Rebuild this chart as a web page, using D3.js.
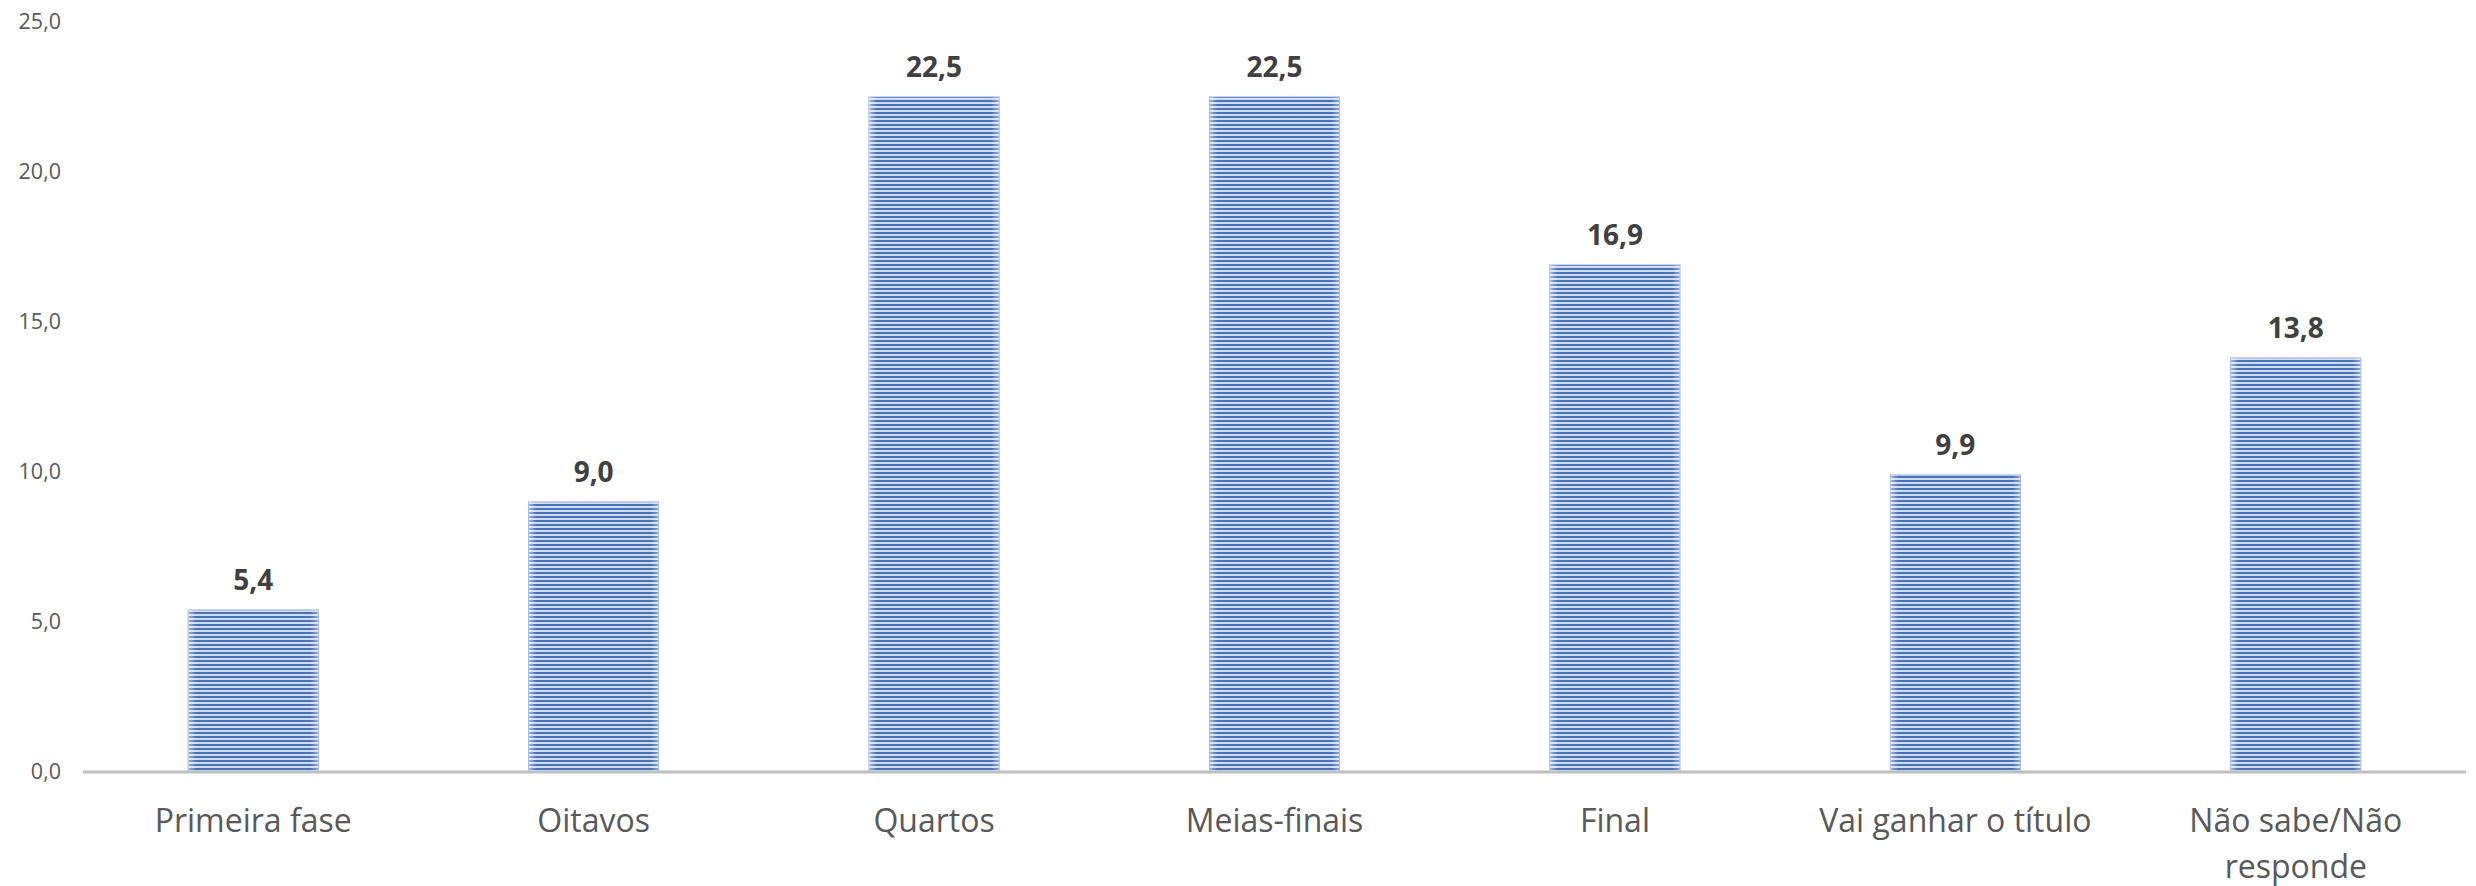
<!DOCTYPE html>
<html>
<head>
<meta charset="utf-8">
<script src="https://cdn.jsdelivr.net/npm/d3@7"></script>
<style>
  html, body { margin: 0; padding: 0; background: #fff; }
  svg { display: block; }
</style>
</head>
<body>
<svg id="chart" width="2476" height="886"></svg>
<script>
// Survey answers: how far the team will go
const categories = ["Primeira fase", "Oitavos", "Quartos", "Meias-finais", "Final", "Vai ganhar o título", "Não sabe/Não responde"];
const values = [5.4, 9.0, 22.5, 22.5, 16.9, 9.9, 13.8];
const yTicks = [0, 5, 10, 15, 20, 25];

const fmt = v => v.toFixed(1).replace(".", ",");

const svg = d3.select("#chart");
const plot = { left: 83, right: 2466, top: 22, bottom: 772 };
const FONT = "'Open Sans', 'Noto Sans', sans-serif";

const x = d3.scaleBand()
  .domain(categories)
  .range([plot.left, plot.right])
  .paddingInner(0.618)
  .paddingOuter(0.309);

const y = d3.scaleLinear()
  .domain([0, 25])
  .range([plot.bottom, plot.top]);

// Horizontal stripe fill for the bars
const defs = svg.append("defs");
const pat = defs.append("pattern")
  .attr("id", "stripes")
  .attr("patternUnits", "userSpaceOnUse")
  .attr("width", 8).attr("height", 4);
pat.append("rect").attr("width", 8).attr("height", 4).attr("fill", "#d2ddf2");
pat.append("rect").attr("y", 0).attr("width", 8).attr("height", 2).attr("fill", "#4472c4");

// Soft lighter edge on the left/right sides of each bar
const edge = defs.append("linearGradient").attr("id", "edge").attr("x1", 0).attr("x2", 1);
[[0, 0.5], [0.06, 0], [0.94, 0], [1, 0.4]].forEach(([o, a]) =>
  edge.append("stop").attr("offset", o).attr("stop-color", "#ffffff").attr("stop-opacity", a));

// Y axis labels (no axis line)
const yAxis = d3.axisLeft(y).tickValues(yTicks).tickFormat(fmt).tickSize(0).tickPadding(0);
const yg = svg.append("g").attr("transform", "translate(61,0)").call(yAxis);
yg.select(".domain").remove();
yg.selectAll("text")
  .attr("fill", "#595959")
  .style("font-family", FONT)
  .style("font-size", "21.5px");

// Bars
const bars = svg.append("g");
bars.selectAll("rect.bar")
  .data(values)
  .join("rect")
  .attr("class", "bar")
  .attr("x", (d, i) => x(categories[i]))
  .attr("y", d => y(d))
  .attr("width", x.bandwidth())
  .attr("height", d => y(0) - y(d))
  .attr("fill", "url(#stripes)")
  .attr("stroke", "#8fa9dc")
  .attr("stroke-width", 1);
bars.selectAll("rect.edge")
  .data(values)
  .join("rect")
  .attr("class", "edge")
  .attr("x", (d, i) => x(categories[i]))
  .attr("y", d => y(d))
  .attr("width", x.bandwidth())
  .attr("height", d => y(0) - y(d))
  .attr("fill", "url(#edge)");

// Baseline
svg.append("line")
  .attr("x1", plot.left).attr("x2", plot.right)
  .attr("y1", y(0)).attr("y2", y(0))
  .attr("stroke", "#bfbfbf").attr("stroke-width", 3);

// Value labels
svg.append("g").selectAll("text")
  .data(values)
  .join("text")
  .attr("x", (d, i) => x(categories[i]) + x.bandwidth() / 2)
  .attr("y", d => y(d) - 20)
  .attr("text-anchor", "middle")
  .attr("fill", "#404040")
  .style("font-family", FONT)
  .style("font-weight", "bold")
  .style("font-size", "28px")
  .text(fmt);

// Category labels, wrapped to the band step
const catG = svg.append("g");
categories.forEach(c => {
  const cx = x(c) + x.bandwidth() / 2;
  const t = catG.append("text")
    .attr("x", cx)
    .attr("y", 832)
    .attr("text-anchor", "middle")
    .attr("fill", "#595959")
    .style("font-family", FONT)
    .style("font-size", "32px");
  const words = c.split(" ");
  const maxW = x.step() * 0.9;
  let line = [];
  let ts = t.append("tspan").attr("x", cx).attr("dy", 0);
  words.forEach(w => {
    line.push(w);
    ts.text(line.join(" "));
    if (ts.node().getComputedTextLength() > maxW && line.length > 1) {
      line.pop();
      ts.text(line.join(" "));
      line = [w];
      ts = t.append("tspan").attr("x", cx).attr("dy", 46).text(w);
    }
  });
});
</script>
</body>
</html>
